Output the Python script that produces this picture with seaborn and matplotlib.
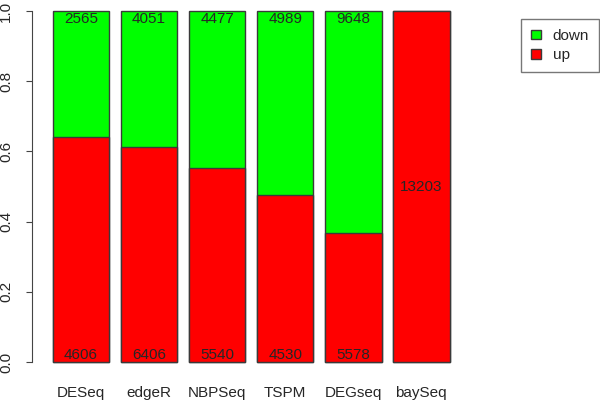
import matplotlib
matplotlib.use("Agg")
import matplotlib.pyplot as plt
import matplotlib.patches as mpatches
import seaborn as sns
import pandas as pd

# DE gene counts per method
methods = ["DESeq", "edgeR", "NBPSeq", "TSPM", "DEGseq", "baySeq"]
up_counts = [4606, 6406, 5540, 4530, 5578, 13203]
down_counts = [2565, 4051, 4477, 4989, 9648, 0]

sns.set_style("ticks")
plt.rcParams["font.family"] = ["Liberation Sans", "DejaVu Sans"]

df = pd.DataFrame({"method": methods, "up": up_counts, "down": down_counts})
df["total"] = df["up"] + df["down"]
df["up_frac"] = df["up"] / df["total"]
df["all_frac"] = df["total"] / df["total"]

fig = plt.figure(figsize=(6, 4), dpi=100)
ax = fig.add_axes([32 / 600, 24 / 400, 428 / 600, 379 / 400])

edge = "#3a3a3a"
# green = whole bar (down), red = up share drawn over it
sns.barplot(data=df, x="method", y="all_frac", color="#00FF00", saturation=1,
            width=0.833, edgecolor=edge, linewidth=1, ax=ax)
sns.barplot(data=df, x="method", y="up_frac", color="#FF0000", saturation=1,
            width=0.833, edgecolor=edge, linewidth=1, ax=ax)

# count labels
for i, row in df.iterrows():
    if row["down"] == 0:
        ax.text(i, 0.5, str(row["up"]), ha="center", va="center", fontsize=11)
    else:
        ax.text(i, 0.978, str(row["down"]), ha="center", va="center", fontsize=11)
        ax.text(i, 0.02, str(row["up"]), ha="center", va="center", fontsize=11)

ax.set_xlim(-0.72, 5.57)
ax.set_ylim(-0.04, 1.04)
ax.set_yticks([0, 0.2, 0.4, 0.6, 0.8, 1.0])
ax.set_yticklabels(["0.0", "0.2", "0.4", "0.6", "0.8", "1.0"], rotation=90, va="center")
ax.set_xlabel("")
ax.set_ylabel("")

for s in ["top", "right", "bottom"]:
    ax.spines[s].set_visible(False)
ax.spines["left"].set_bounds(0, 1)
ax.spines["left"].set_color("#444444")
ax.tick_params(axis="y", length=4.5, width=0.8, color="#444444", pad=9, labelsize=11)
ax.tick_params(axis="x", length=0, pad=7, labelsize=11)

handles = [mpatches.Patch(facecolor="#00FF00", edgecolor=edge, label="down"),
           mpatches.Patch(facecolor="#FF0000", edgecolor=edge, label="up")]
leg = fig.legend(handles=handles, loc="upper right", bbox_to_anchor=(599 / 600, 1 - 19 / 400),
                 borderaxespad=0, fancybox=False, frameon=True, fontsize=11,
                 handlelength=0.65, handleheight=0.6, handletextpad=0.75,
                 labelspacing=0.35, borderpad=0.65)
leg.get_frame().set_edgecolor("#555555")
leg.get_frame().set_linewidth(1)

fig.savefig("out.png", dpi=100)
